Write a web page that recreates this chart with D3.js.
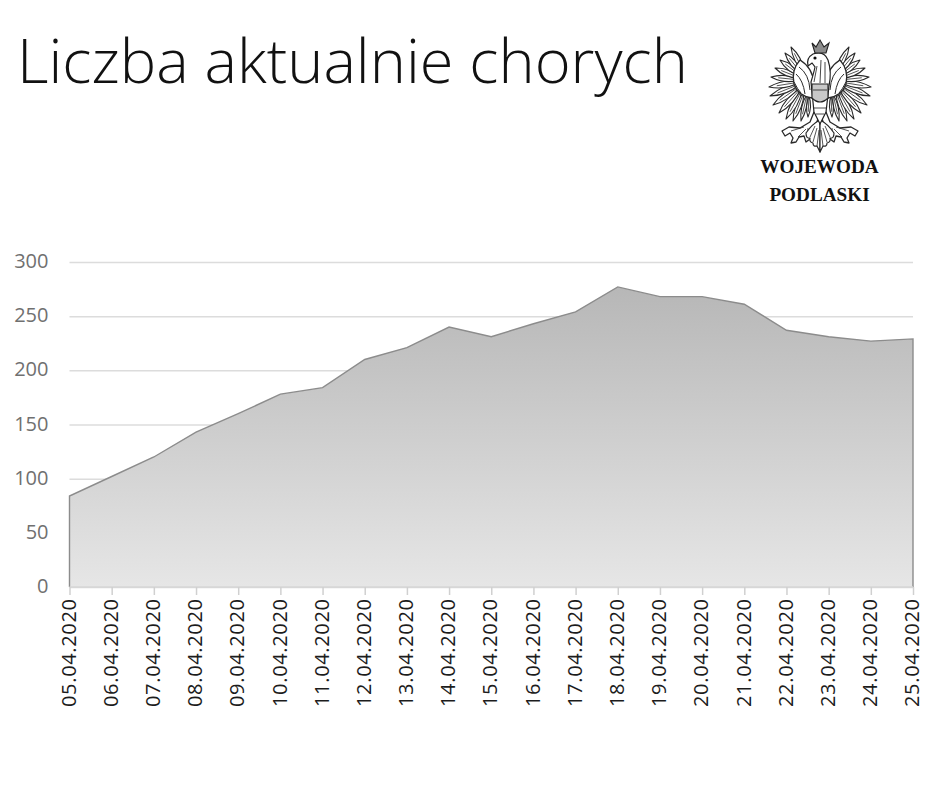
<!DOCTYPE html>
<html><head><meta charset="utf-8">
<script src="https://cdn.jsdelivr.net/npm/d3@7/dist/d3.min.js"></script>
<style>html,body{margin:0;padding:0;background:#fff}svg{display:block}</style>
</head><body><svg id="c" width="940" height="788"></svg>
<script>
const titleText = "Liczba aktualnie chorych";
const logoLines = ["WOJEWODA", "PODLASKI"];
const dates = ["05.04.2020","06.04.2020","07.04.2020","08.04.2020","09.04.2020","10.04.2020","11.04.2020","12.04.2020","13.04.2020","14.04.2020","15.04.2020","16.04.2020","17.04.2020","18.04.2020","19.04.2020","20.04.2020","21.04.2020","22.04.2020","23.04.2020","24.04.2020","25.04.2020"];
const sick = [84,102,120,143,160,178,184,210,221,240,231,243,254,277,268,268,261,237,231,227,229];
const yTicks = [0,50,100,150,200,250,300];

const svg = d3.select("#c");
const x = d3.scalePoint().domain(dates).range([69.5,913]);
const y = d3.scaleLinear().domain([0,300]).range([587,262]);

svg.append("text").attr("x",17).attr("y",83).text(titleText)
  .attr("font-family","'Open Sans'").attr("font-weight",300).attr("font-size",61.3).attr("fill","#111");

const defs = svg.append("defs");
const g = defs.append("linearGradient").attr("id","fade").attr("gradientUnits","userSpaceOnUse")
  .attr("x1",0).attr("x2",0).attr("y1",y(277)).attr("y2",y(0));
g.append("stop").attr("offset",0).attr("stop-color","#b7b7b7");
g.append("stop").attr("offset",1).attr("stop-color","#e6e6e6");
defs.append("filter").attr("id","soft").append("feGaussianBlur").attr("stdDeviation",0.35);

const yAxis = d3.axisLeft(y).tickValues(yTicks).tickSize(-(913-69.5)).tickPadding(21);
const ya = svg.append("g").attr("transform","translate(69.5,0)").call(yAxis);
ya.select(".domain").remove();
ya.selectAll("line").attr("stroke","#dcdcdc").attr("stroke-width",1.5);
ya.selectAll("text").attr("font-family","'Open Sans'").attr("font-size",20).attr("fill","#707070").attr("x",-21).attr("dy","0.28em");

const area = d3.area().x((d,i)=>x(dates[i])).y0(y(0)).y1(d=>y(d));
svg.append("path").datum(sick).attr("d",area).attr("fill","url(#fade)");
const outline = d3.line().x(d=>d[0]).y(d=>d[1]);
const pts = sick.map((d,i)=>[x(dates[i]),y(d)]);
svg.append("path").attr("d",outline([[x(dates[0]),y(0)],...pts,[x(dates[dates.length-1]),y(0)]]))
  .attr("fill","none").attr("stroke","#8c8c8c").attr("stroke-width",1.4);

const xAxis = d3.axisBottom(x).tickSize(8).tickPadding(0);
const xa = svg.append("g").attr("transform","translate(0,587)").call(xAxis);
xa.select(".domain").attr("stroke","#d6d6d6").attr("stroke-width",1.5).attr("d","M69.5,0H913");
xa.selectAll("line").attr("stroke","#d0d0d0").attr("stroke-width",1.5);
xa.selectAll("text").attr("transform","rotate(-90)").attr("text-anchor","end")
  .attr("x",-12).attr("y",-1.5).attr("dy","0.36em").attr("dx",0)
  .attr("font-family","'Open Sans'").attr("font-size",20).attr("fill","#1c1c1c")
  .attr("textLength",108).attr("lengthAdjust","spacing");

// emblem
const logo = svg.append("g").attr("class","logo");
const bird = logo.append("g").attr("filter","url(#soft)");
function half(sel){
  const s = sel.append("g").attr("fill","#fff").attr("stroke","#2a2a2a").attr("stroke-width",1.1).attr("stroke-linejoin","round");
  const feathers = [[793,121,804,92,5.5],[786,119,802,90,6],[779,113,801,88,6],[773,105,800,86,6],[770,96,800,84,6],[769,87,800,82,6],[771,77,800,80,6],[775,68,800,78,6],[780,60,801,76,6],[785,53,802,74,6],[791,47,804,72,5.5],[808,117,809,96,4],[801,121,807,94,4.5]];
  feathers.forEach(([tx,ty,rx,ry,w])=>{
    const a=Math.atan2(ty-ry,tx-rx)+Math.PI/2, dx=Math.cos(a)*w, dy=Math.sin(a)*w;
    const mx=(tx+rx)/2,my=(ty+ry)/2;
    s.append("path").attr("d",`M${rx},${ry}Q${mx+dx},${my+dy} ${tx},${ty}Q${mx-dx},${my-dy} ${rx},${ry}Z`);
    s.append("path").attr("d",`M${rx},${ry}L${(tx*3+rx)/4},${(ty*3+ry)/4}`).attr("stroke-width",.8).attr("fill","none");
  });
  // shoulder and curved bands
  s.append("path").attr("d","M800,60Q813,68 814,84L818,92L812,98Q798,96 794,84Q791,70 800,60Z").attr("stroke-width",1.3);
  s.append("path").attr("d","M799,67Q809,74 810,90M796,74Q803,80 805,94M794,82Q798,90 801,93").attr("fill","none").attr("stroke-width",1);
  // leg and claws
  s.append("path").attr("d","M814,112L810,122L800,128L789,127L782,131L785,136L790,133L793,138L791,143L796,142L799,137L804,136L806,142L810,139L810,131L817,122L819,114Z").attr("stroke-width",1.3);
  s.append("path").attr("d","M804,127L791,131M806,129L798,137M808,128L807,137").attr("fill","none").attr("stroke-width",.8);
  // tail feathers
  s.append("path").attr("d","M820,120Q812,124 806,133Q806,139 810,138Q809,142 813,143Q813,147 817,146L820,152Z").attr("stroke-width",1.2);
  s.append("path").attr("d","M815,126L810,137M817,128L813,142M819,130L817,146").attr("fill","none").attr("stroke-width",.8);
}
half(bird);
half(bird.append("g").attr("transform","translate(1640,0) scale(-1,1)"));
// body, head, crown
bird.append("path").attr("d","M811,82Q814,72 815,67L812,63L808,66Q806,58 813,54Q824,50 828,60Q832,72 829,86L826,112L820,124L814,112Z")
  .attr("fill","#fff").attr("stroke","#222").attr("stroke-width",1.2);
bird.append("path").attr("d","M812,84H828V98Q820,106 812,98Z").attr("fill","#c8c8c8").attr("stroke","#222").attr("stroke-width",1.1);
bird.append("path").attr("d","M817,66L814,82M821,60L820,83M825,62L825,83M813,90H827M814,108H826M816,114H824").attr("fill","none").attr("stroke","#333").attr("stroke-width",.9);
bird.append("path").attr("d","M812,43L816,47L820,40L824,47L829,43L826,53H815Z").attr("fill","#8c8c8c").attr("stroke","#222").attr("stroke-width",1.1);
bird.append("circle").attr("cx",815).attr("cy",58).attr("r",1.6).attr("fill","#111");

logo.selectAll("text.l").data(logoLines).join("text").attr("class","l")
  .attr("x",819.5).attr("y",(d,i)=>173+i*28).attr("text-anchor","middle").text(d=>d)
  .attr("font-family","'Liberation Serif'").attr("font-weight",700).attr("font-size",19.2).attr("fill","#111");
</script></body></html>
